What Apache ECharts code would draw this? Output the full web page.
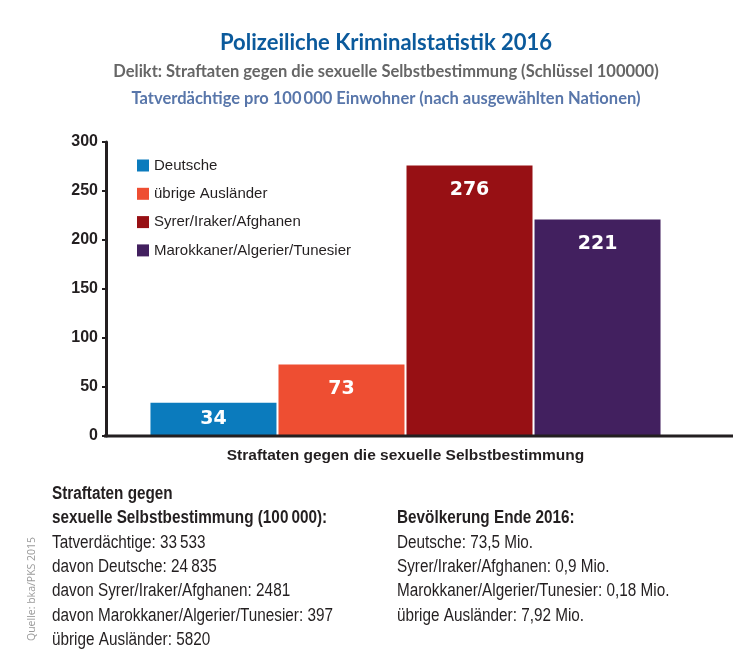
<!DOCTYPE html>
<html lang="de">
<head>
    <meta charset="UTF-8">
    <title>Polizeiliche Kriminalstatistik 2016</title>
    <script src="https://cdn.jsdelivr.net/npm/echarts@6/dist/echarts.min.js"></script>
    <style>
        html, body { margin: 0; padding: 0; background: #fff; }
        #chart { width: 733px; height: 666px; }
    </style>
</head>
<body>
    <div id="chart"></div>
    <script type="text/javascript">
        // Daten
        var categories = ['Straftaten gegen die sexuelle Selbstbestimmung'];
        var seriesNames = ['Deutsche', 'übrige Ausländer', 'Syrer/Iraker/Afghanen', 'Marokkaner/Algerier/Tunesier'];
        var seriesValues = [34, 73, 276, 221];
        var yTicks = [0, 50, 100, 150, 200, 250, 300];

        var leftHead = ['Straftaten gegen', 'sexuelle Selbstbestimmung (100\u2009000):'];
        var leftLines = ['Tatverdächtige: 33\u2009533', 'davon Deutsche: 24\u2009835',
            'davon Syrer/Iraker/Afghanen: 2481', 'davon Marokkaner/Algerier/Tunesier: 397',
            'übrige Ausländer: 5820'];
        var rightHead = ['Bevölkerung Ende 2016:'];
        var rightLines = ['Deutsche: 73,5 Mio.', 'Syrer/Iraker/Afghanen: 0,9 Mio.',
            'Marokkaner/Algerier/Tunesier: 0,18 Mio.', 'übrige Ausländer: 7,92 Mio.'];

        var colors = ['#0b7bbd', '#ee4e32', '#971014', '#42205f'];
        var narrow = '"Liberation Sans", Arial, sans-serif';

        var myChart = echarts.init(document.getElementById('chart'));

        var series = [];
        for (var i = 0; i < seriesNames.length; i++) {
            series.push({
                name: seriesNames[i],
                type: 'bar',
                data: [seriesValues[i]],
                barWidth: 126,
                barGap: '1.6%',
                itemStyle: { color: colors[i] },
                label: {
                    show: true,
                    position: i === 0 ? 'inside' : 'insideTop',
                    distance: 15,
                    color: '#fff',
                    fontFamily: '"DejaVu Sans", sans-serif',
                    fontWeight: 'bold',
                    fontSize: 19
                }
            });
        }

        // Textblöcke unten (schmal gesetzt)
        var graphics = [];
        function addLines(lines, x, y0, bold) {
            for (var k = 0; k < lines.length; k++) {
                graphics.push({
                    type: 'text', x: x, y: y0 + k * 24.2, scaleX: 0.85,
                    style: {
                        text: lines[k], fill: '#231f20',
                        font: (bold ? 'bold ' : '') + '18px ' + narrow,
                        textVerticalAlign: 'middle'
                    }
                });
            }
        }
        addLines(leftHead, 52, 494, true);
        addLines(leftLines, 52, 543, false);
        addLines(rightHead, 397, 518, true);
        addLines(rightLines, 397, 543, false);

        graphics.push({
            type: 'text', x: 27, y: 641, rotation: Math.PI / 2,
            style: {
                text: 'Quelle: bka/PKS 2015', fill: '#9a9a9a',
                font: '10.5px "Open Sans", sans-serif', textVerticalAlign: 'top'
            }
        });
        // x-Achse bis zum Bildrand
        graphics.push({
            type: 'line', z: 10, shape: { x1: 104, y1: 436, x2: 733, y2: 436 },
            style: { stroke: '#231f20', lineWidth: 3 }
        });

        var option = {
            animation: false,
            title: [
                {
                    text: 'Polizeiliche Kriminalstatistik 2016',
                    left: 381, top: 27, textAlign: 'center',
                    textStyle: { color: '#0b5a9c', fontFamily: 'Lato', fontWeight: 'bold', fontSize: 22 }
                },
                {
                    text: 'Delikt: Straftaten gegen die sexuelle Selbstbestimmung (Schlüssel 100000)',
                    left: 381, top: 58, textAlign: 'center',
                    textStyle: { color: '#666', fontFamily: 'Lato', fontWeight: 'bold', fontSize: 16.5 }
                },
                {
                    text: 'Tatverdächtige pro 100\u2009000 Einwohner (nach ausgewählten Nationen)',
                    left: 381, top: 85, textAlign: 'center',
                    textStyle: { color: '#5876aa', fontFamily: 'Lato', fontWeight: 'bold', fontSize: 16.5 }
                }
            ],
            color: colors,
            legend: {
                orient: 'vertical',
                left: 132, top: 153,
                icon: 'rect',
                itemWidth: 12, itemHeight: 12, itemGap: 13.3,
                textStyle: { color: '#231f20', fontFamily: narrow, fontSize: 15 },
                data: seriesNames
            },
            grid: { left: 106, top: 142, width: 599, height: 294 },
            xAxis: {
                type: 'category',
                data: categories,
                axisLine: { show: false },
                axisTick: { show: false },
                axisLabel: {
                    margin: 12, color: '#231f20',
                    fontFamily: narrow, fontWeight: 'bold', fontSize: 15.5
                }
            },
            yAxis: {
                type: 'value',
                min: yTicks[0], max: yTicks[yTicks.length - 1], interval: 50,
                axisLine: { show: true, lineStyle: { color: '#231f20', width: 3 } },
                axisTick: { show: true, length: 4, lineStyle: { color: '#231f20', width: 2 } },
                splitLine: { show: false },
                axisLabel: {
                    margin: 8, color: '#231f20',
                    fontFamily: narrow, fontWeight: 'bold', fontSize: 16
                }
            },
            series: series,
            graphic: graphics
        };

        myChart.setOption(option);
    </script>
</body>
</html>
